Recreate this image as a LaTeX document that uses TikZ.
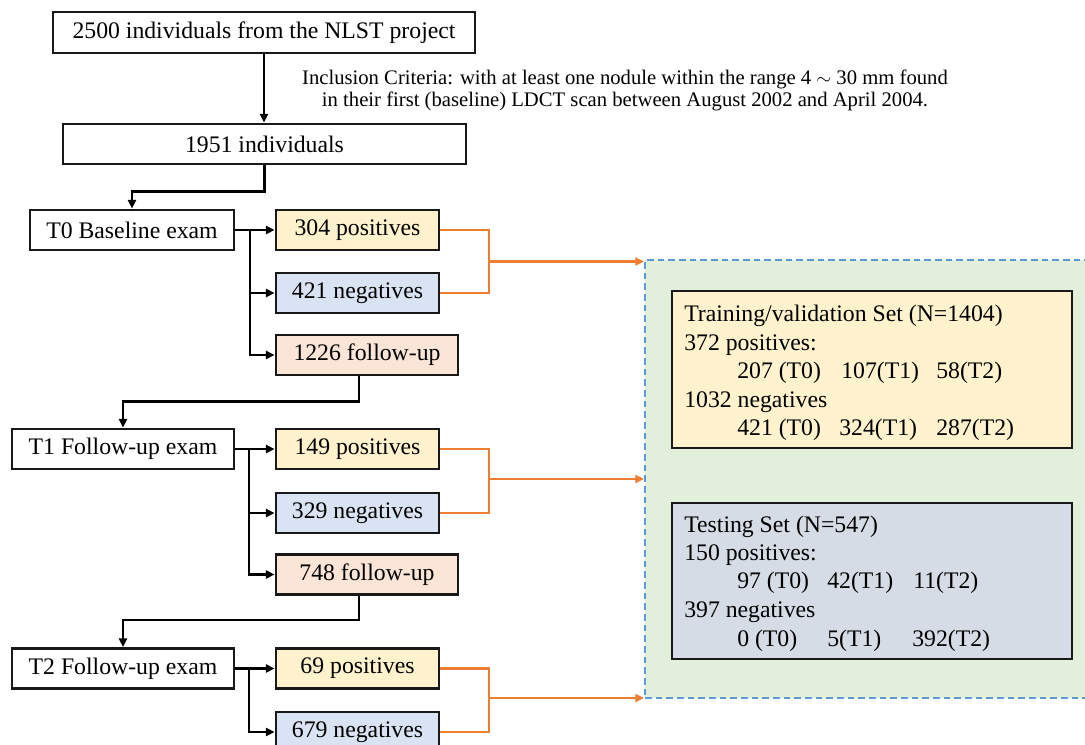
\documentclass[tikz,border=0pt]{standalone}
\usepackage{fontspec}
\setmainfont{Liberation Serif}
\usetikzlibrary{arrows.meta}
\definecolor{cyel}{HTML}{FFF2CC}
\definecolor{cblu}{HTML}{DAE3F3}
\definecolor{cpch}{HTML}{FBE5D6}
\definecolor{cgrn}{HTML}{E2EFDA}
\definecolor{ctst}{HTML}{D6DCE5}
\definecolor{corg}{HTML}{ED7D31}
\definecolor{cdsh}{HTML}{5B9BD5}
\tikzset{
  sz/.style 2 args={minimum width=#1*0.75pt, minimum height=#2*0.75pt},
  bx/.style={draw=black!90, line width=2.1pt, inner sep=0pt, font=\fontsize{17.8}{21}\selectfont},
  wbox/.style={bx, fill=white},
  ybox/.style={bx, fill=cyel},
  bbox/.style={bx, fill=cblu},
  pbox/.style={bx, fill=cpch},
  txt/.style={anchor=base west, inner sep=0pt, font=\fontsize{17.8}{21}\selectfont},
  arr/.style={draw=black, line width=1.7pt, -{Triangle[length=6.5pt,width=6pt]}},
  oln/.style={draw=corg, line width=1.7pt},
  oarr/.style={draw=corg, line width=1.7pt, -{Triangle[length=6.5pt,width=6pt]}, fill=corg},
}
\begin{document}
\begin{tikzpicture}[x=0.75pt, y=-0.75pt]
\useasboundingbox (0,0) rectangle (1085,745);
\clip (0,0) rectangle (1085,745);
% green region
\node[draw=cdsh, dash pattern=on 5pt off 3pt, line width=1.5pt, fill=cgrn, anchor=north west, sz={500}{438}, inner sep=0pt] (grn) at (644,259) {};
% set boxes
\node[bx, fill=cyel, sz={400}{157}] (trn) at (872,369.5) {};
\node[bx, fill=ctst, sz={400}{156}] (tst) at (872,581) {};
\node[txt] (tr1) at (684,321) {Training/validation Set (N=1404)};
\node[txt] (tr2) at (684,350) {372 positives:};
\node[txt] (tr3) at (737,378) {207 (T0)};
\node[txt] (tr4) at (841,378) {107(T1)};
\node[txt] (tr5) at (936,378) {58(T2)};
\node[txt] (tr6) at (684,407) {1032 negatives};
\node[txt] (tr7) at (737,435) {421 (T0)};
\node[txt] (tr8) at (839,435) {324(T1)};
\node[txt] (tr9) at (936,435) {287(T2)};
\node[txt] (ts1) at (684,532) {Testing Set (N=547)};
\node[txt] (ts2) at (684,560) {150 positives:};
\node[txt] (ts3) at (737,588) {97 (T0)};
\node[txt] (ts4) at (827,588) {42(T1)};
\node[txt] (ts5) at (913,588) {11(T2)};
\node[txt] (ts6) at (684,617) {397 negatives};
\node[txt] (ts7) at (737,646) {0 (T0)};
\node[txt] (ts8) at (827,646) {5(T1)};
\node[txt] (ts9) at (912,646) {392(T2)};
% top boxes
\node[wbox, sz={422}{41}] (n2500) at (264,32.5) {2500 individuals from the NLST project};
\node[wbox, sz={403}{40}] (n1951) at (264.5,144) {1951 individuals};
\node[align=center, inner sep=0pt, font=\fontsize{15.5}{16.5}\selectfont] (inc) at (625,90) {Inclusion Criteria: with at least one nodule within the range 4 $\sim$ 30 mm found\\in their first (baseline) LDCT scan between August 2002 and April 2004.};
% T0
\node[wbox, sz={204}{40}] (t0) at (132,230) {T0 Baseline exam};
\node[ybox, sz={163}{40}] (p0) at (357.5,230) {304 positives};
\node[bbox, sz={163}{40}] (g0) at (357.5,293) {421 negatives};
\node[pbox, sz={182}{40}] (f0) at (367,355) {1226 follow-up};
% T1
\node[wbox, sz={222}{40}] (t1) at (123,449) {T1 Follow-up exam};
\node[ybox, sz={163}{40}] (p1) at (357.5,449) {149 positives};
\node[bbox, sz={163}{40}] (g1) at (357.5,513) {329 negatives};
\node[pbox, sz={182}{40}] (f1) at (367,574.5) {748 follow-up};
% T2
\node[wbox, sz={222}{40}] (t2) at (123,668.5) {T2 Follow-up exam};
\node[ybox, sz={163}{40}] (p2) at (357.5,668.5) {69 positives};
\node[bbox, sz={163}{40}] (g2) at (357.5,732) {679 negatives};
% black connectors
\draw[arr] (n2500.south) -- (n2500.south |- n1951.north);
\draw[arr] (n1951.south) -- ++(0,26) -| (t0.north);
\coordinate (b0) at (250,230);
\coordinate (b1) at (249,449);
\coordinate (b2) at (249,668.5);
\draw[arr] (t0.east) -- (p0.west);
\draw[arr] (b0) |- (g0.west);
\draw[arr] (b0) |- (f0.west);
\draw[arr] (t1.east) -- (p1.west);
\draw[arr] (b1) |- (g1.west);
\draw[arr] (b1) |- (f1.west);
\draw[arr] (t2.east) -- (p2.west);
\draw[arr] (b2) |- (g2.west);
\coordinate (d0) at ([xshift=-6pt]f0.south);
\coordinate (d1) at ([xshift=-6pt]f1.south);
\draw[arr] (d0) -- ++(0,25) -| (t1.north);
\draw[arr] (d1) -- ++(0,24) -| (t2.north);
% orange connectors
\coordinate (m0) at (489,261.5);
\coordinate (m1) at (489,479);
\coordinate (m2) at (489,698);
\draw[oln] (p0.east) -| (m0) |- (g0.east);
\draw[oln] (p1.east) -| (m1) |- (g1.east);
\draw[oln] (p2.east) -| (m2) |- (g2.east);
\draw[oarr] (m0) -- (m0 -| grn.west);
\draw[oarr] (m1) -- (m1 -| grn.west);
\draw[oarr] (m2) -- (m2 -| grn.west);
\end{tikzpicture}
\end{document}
